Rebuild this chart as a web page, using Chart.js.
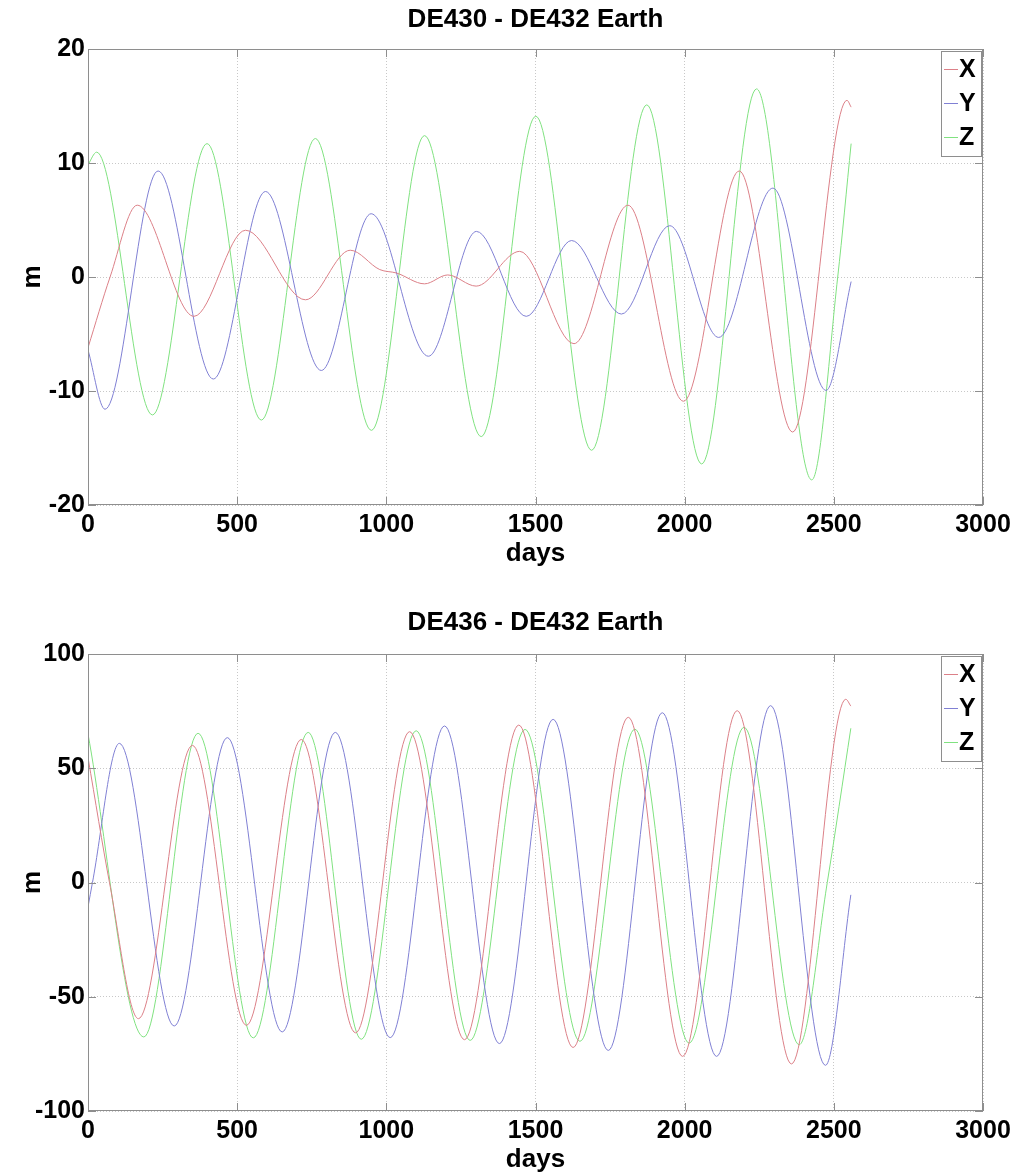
<!DOCTYPE html>
<html>
<head>
<meta charset="utf-8">
<script src="https://cdn.jsdelivr.net/npm/chart.js@4.4.1/dist/chart.umd.min.js"></script>
<style>
  html, body { margin: 0; padding: 0; background: #fff; }
  body { width: 1016px; height: 1175px; position: relative; overflow: hidden; }
  .panel { position: absolute; left: 0; width: 1016px; }
</style>
</head>
<body>
<div class="panel" style="top:0;height:569px"><canvas id="top" width="1016" height="569"></canvas></div>
<div class="panel" style="top:605px;height:570px"><canvas id="bottom" width="1016" height="570"></canvas></div>
<script>
// DE430 - DE432 (days, metres)
const topDaysX = [0, 74, 165, 355, 528, 729, 879, 978, 1034, 1128, 1206, 1301, 1447, 1629, 1810, 1996, 2183, 2362, 2544, 2558];
const topValsX = [-6.2, 0, 6.3, -3.45, 4.1, -2.0, 2.35, 0.65, 0.35, -0.6, 0.18, -0.8, 2.25, -5.85, 6.3, -10.9, 9.3, -13.6, 15.5, 14.9];
const topDaysY = [0, 57, 235, 420, 595, 782, 949, 1141, 1302, 1469, 1621, 1788, 1950, 2114, 2296, 2474, 2558];
const topValsY = [-6.4, -11.6, 9.3, -8.95, 7.5, -8.2, 5.55, -6.95, 4.0, -3.45, 3.2, -3.25, 4.5, -5.3, 7.8, -9.95, -0.4];
const topDaysZ = [0, 29, 216, 399, 581, 762, 950, 1128, 1318, 1501, 1688, 1873, 2057, 2241, 2426, 2513, 2558];
const topValsZ = [9.85, 10.95, -12.1, 11.7, -12.55, 12.15, -13.45, 12.4, -14.0, 14.1, -15.2, 15.1, -16.4, 16.5, -17.8, 0, 11.7];

// DE436 - DE432
const botDaysX = [0, 72, 169, 350, 531, 715, 897, 1078, 1262, 1444, 1626, 1811, 1993, 2176, 2358, 2540, 2557];
const botValsX = [54.7, 0, -59.6, 60.0, -62.5, 62.6, -65.8, 66.0, -68.8, 68.9, -72.2, 72.3, -76.1, 75.2, -79.4, 80.2, 77.2];
const botDaysY = [0, 15, 105, 289, 467, 651, 829, 1013, 1195, 1379, 1559, 1744, 1925, 2107, 2288, 2472, 2557];
const botValsY = [-10.7, 0, 60.9, -62.8, 63.4, -65.4, 65.7, -67.9, 68.5, -70.5, 71.4, -73.5, 74.3, -76.1, 77.4, -80.0, -5.4];
const botDaysZ = [0, 187, 369, 554, 738, 916, 1100, 1281, 1465, 1649, 1833, 2015, 2199, 2384, 2478, 2557];
const botValsZ = [65.0, -67.6, 65.3, -68.0, 65.7, -68.6, 66.4, -69.1, 67.0, -69.5, 67.1, -70.3, 67.9, -71.0, 0, 67.5];

const seriesNames = ['X', 'Y', 'Z'];
const seriesColors = ['rgb(220,128,136)', 'rgb(128,128,212)', 'rgb(128,226,128)'];

const FONT = '"Liberation Sans", Arial, Helvetica, sans-serif';

const zip = (xs, ys) => xs.map((x, i) => ({ x: x, y: ys[i] }));

// title over the axes, box around them, MATLAB style inner ticks and the boxed legend
const framePlugin = {
    id: 'frame',
    afterDatasetsDraw(chart, args, opts) {
        const { ctx, chartArea: a, scales } = chart;
        ctx.save();

        ctx.fillStyle = '#000';
        ctx.font = 'bold 26px ' + FONT;
        ctx.textAlign = 'center';
        ctx.textBaseline = 'middle';
        ctx.fillText(opts.title, (a.left + a.right) / 2, opts.titleY);

        ctx.strokeStyle = '#8e8e8e';
        ctx.lineWidth = 1;
        ctx.strokeRect(a.left + 0.5, a.top + 0.5, a.width - 1, a.height - 1);

        ctx.beginPath();
        scales.x.ticks.forEach(t => {
            const px = Math.round(scales.x.getPixelForValue(t.value)) + 0.5;
            ctx.moveTo(px, a.top); ctx.lineTo(px, a.top + 8);
            ctx.moveTo(px, a.bottom); ctx.lineTo(px, a.bottom - 8);
        });
        scales.y.ticks.forEach(t => {
            const py = Math.round(scales.y.getPixelForValue(t.value)) + 0.5;
            ctx.moveTo(a.left, py); ctx.lineTo(a.left + 8, py);
            ctx.moveTo(a.right, py); ctx.lineTo(a.right - 8, py);
        });
        ctx.stroke();

        // legend
        const bx = a.right - 42, by = a.top + 2, bw = 40, bh = 105;
        ctx.fillStyle = '#fff';
        ctx.fillRect(bx, by, bw, bh);
        ctx.strokeStyle = '#8e8e8e';
        ctx.strokeRect(bx + 0.5, by + 0.5, bw, bh);
        ctx.font = 'bold 25px ' + FONT;
        ctx.textAlign = 'left';
        chart.data.datasets.forEach((ds, i) => {
            const y = by + 18 + i * 34;
            ctx.strokeStyle = ds.borderColor;
            ctx.beginPath();
            ctx.moveTo(bx + 3, y + 0.5);
            ctx.lineTo(bx + 17, y + 0.5);
            ctx.stroke();
            ctx.fillStyle = '#000';
            ctx.fillText(ds.label, bx + 18, y + 1);
        });
        ctx.restore();
    }
};

function makeChart(id, title, titleY, days, vals, yMin, yMax, yStep) {
    const datasets = seriesNames.map((name, i) => ({
        label: name,
        data: zip(days[i], vals[i]),
        borderColor: seriesColors[i],
        borderWidth: 1,
        pointRadius: 0,
        cubicInterpolationMode: 'monotone',
        fill: false,
    }));
    return new Chart(document.getElementById(id), {
        type: 'line',
        data: { datasets },
        plugins: [framePlugin],
        options: {
            responsive: false,
            animation: false,
            devicePixelRatio: 1,
            layout: { padding: { left: 0, right: 33, top: 49, bottom: 0 } },
            plugins: {
                legend: { display: false },
                tooltip: { enabled: false },
                frame: { title: title, titleY: titleY },
            },
            scales: {
                x: {
                    type: 'linear',
                    min: 0, max: 3000,
                    afterFit: (s) => { s.height = 64; },
                    border: { display: false, dash: [1, 2] },
                    grid: { color: '#c8c8c8', drawTicks: false },
                    ticks: {
                        stepSize: 500, padding: 5, color: '#000', maxRotation: 0,
                        font: { family: FONT, size: 25, weight: 'bold' },
                        callback: (v) => String(v),
                    },
                    title: {
                        display: true, text: 'days', color: '#000',
                        font: { family: FONT, size: 26, weight: 'bold' },
                        padding: { top: 0, bottom: 0 },
                    },
                },
                y: {
                    min: yMin, max: yMax,
                    afterFit: (s) => { s.width = 88; },
                    border: { display: false, dash: [1, 2] },
                    grid: { color: '#c8c8c8', drawTicks: false },
                    ticks: {
                        stepSize: yStep, padding: 3, color: '#000',
                        font: { family: FONT, size: 25, weight: 'bold' },
                        callback: (v) => String(v),
                    },
                    title: {
                        display: true, text: 'm', color: '#000',
                        font: { family: FONT, size: 26, weight: 'bold' },
                        padding: { top: 17, bottom: 0 },
                    },
                },
            },
        },
    });
}

makeChart('top', 'DE430 - DE432 Earth', 20,
    [topDaysX, topDaysY, topDaysZ], [topValsX, topValsY, topValsZ], -20, 20, 10);
makeChart('bottom', 'DE436 - DE432 Earth', 18,
    [botDaysX, botDaysY, botDaysZ], [botValsX, botValsY, botValsZ], -100, 100, 50);
</script>
</body>
</html>
